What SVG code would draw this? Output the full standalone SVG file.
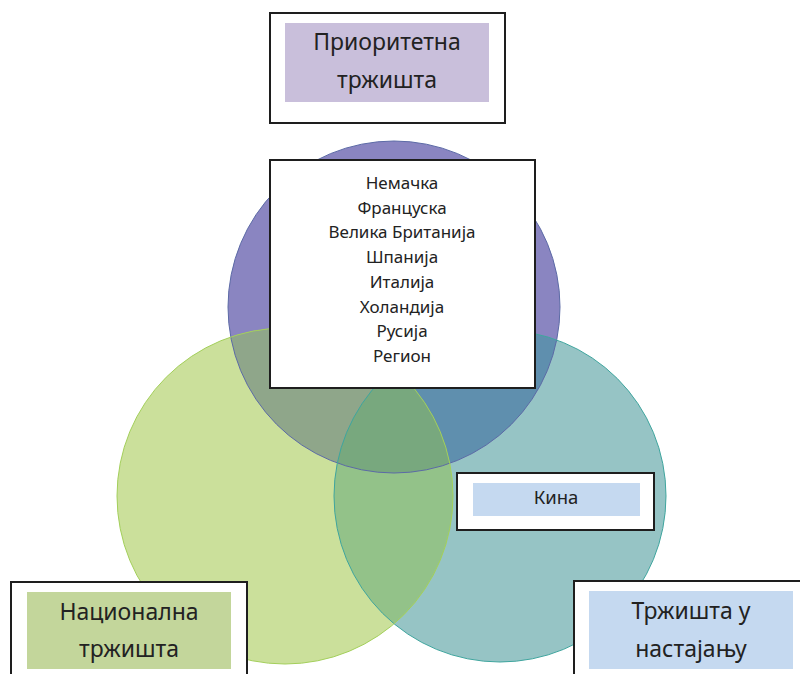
<svg xmlns="http://www.w3.org/2000/svg" width="800" height="674" viewBox="0 0 800 674">
<style>
.box{fill:#ffffff;stroke:#1e1e1e;stroke-width:2}
.lbl{font-family:"Noto Sans","Open Sans",sans-serif;fill:#222222;text-anchor:middle}
.big{font-size:23px}
.list{font-size:17px}
.kina{font-size:18.5px}
</style>
<defs>
<clipPath id="cpP"><circle cx="394" cy="307" r="166"/></clipPath>
<clipPath id="cpT"><circle cx="500" cy="496" r="166"/></clipPath>
</defs>
<rect width="800" height="674" fill="#ffffff"/>
<g id="venn">
<circle id="c-prio" cx="394" cy="307" r="166" fill="#8A85C1"/>
<circle id="c-emerg" cx="500" cy="496" r="166" fill="#96C4C5"/>
<circle id="c-nat" cx="285" cy="496" r="168" fill="#CBE09B"/>
<circle cx="285" cy="496" r="168" fill="#8FA68A" clip-path="url(#cpP)"/>
<circle cx="500" cy="496" r="166" fill="#5F8FAE" clip-path="url(#cpP)"/>
<circle cx="285" cy="496" r="168" fill="#93C289" clip-path="url(#cpT)"/>
<g clip-path="url(#cpP)"><circle cx="285" cy="496" r="168" fill="#78A87E" clip-path="url(#cpT)"/></g>
<circle cx="394" cy="307" r="166" fill="none" stroke="#5C6AA6" stroke-width="1"/>
<circle cx="500" cy="496" r="166" fill="none" stroke="#3FA59E" stroke-width="1"/>
<circle cx="285" cy="496" r="168" fill="none" stroke="#A3CF5A" stroke-width="1"/>
</g>
<g id="prioritetna">
<rect class="box" x="270" y="13" width="235" height="110"/>
<rect x="285" y="23" width="204" height="79" fill="#C9BFDB"/>
<text class="lbl big" x="387" y="50">Приоритетна</text>
<text class="lbl big" x="387" y="88">тржишта</text>
</g>
<g id="lista">
<rect class="box" x="270" y="160" width="265" height="228"/>
<text class="lbl list" x="402" y="189">Немачка</text>
<text class="lbl list" x="402" y="213.7">Француска</text>
<text class="lbl list" x="402" y="238.4">Велика Британија</text>
<text class="lbl list" x="402" y="263.1">Шпанија</text>
<text class="lbl list" x="402" y="287.8">Италија</text>
<text class="lbl list" x="402" y="312.5">Холандија</text>
<text class="lbl list" x="402" y="337.2">Русија</text>
<text class="lbl list" x="402" y="361.9">Регион</text>
</g>
<g id="kina">
<rect class="box" x="457" y="473" width="197" height="57"/>
<rect x="473" y="483" width="167" height="33" fill="#C5D9F0"/>
<text class="lbl kina" x="556" y="504">Кина</text>
</g>
<g id="nacionalna">
<rect class="box" x="11" y="582" width="236" height="110"/>
<rect x="27" y="592" width="204" height="77" fill="#C3D69B"/>
<text class="lbl big" x="129" y="620">Национална</text>
<text class="lbl big" x="129" y="657">тржишта</text>
</g>
<g id="nastajanje">
<rect class="box" x="574" y="581" width="240" height="110"/>
<rect x="589" y="591" width="204" height="78" fill="#C5D9F0"/>
<text class="lbl big" x="691" y="619">Тржишта у</text>
<text class="lbl big" x="691" y="657">настајању</text>
</g>
<g id="connectors"/>
</svg>
